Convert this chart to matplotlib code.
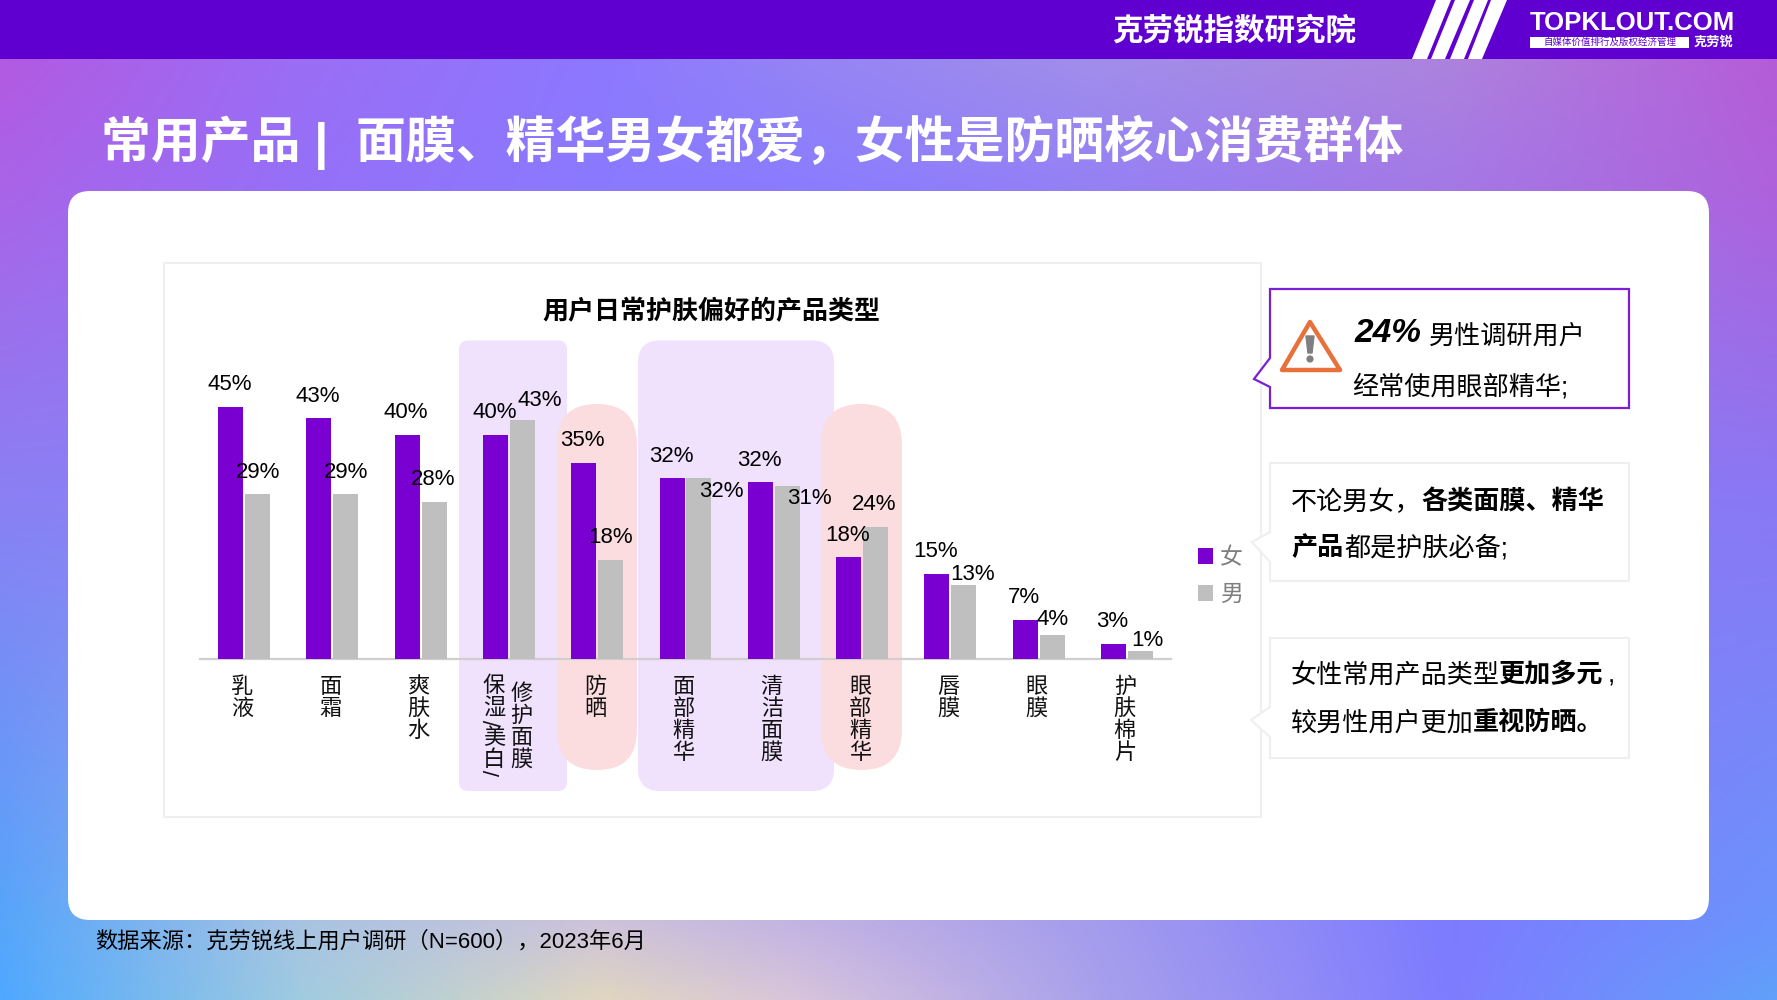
import numpy as np
import matplotlib
matplotlib.use("Agg")
import matplotlib.pyplot as plt
from matplotlib.patches import FancyBboxPatch, Polygon, Rectangle, Circle
from matplotlib.transforms import ScaledTranslation

CJK = ['Liberation Sans', 'Noto Sans CJK SC', 'DejaVu Sans']
plt.rcParams['font.family'] = CJK

# ---- data ----
categories = ['乳液', '面霜', '爽肤水', '保湿/美白/修护面膜', '防晒', '面部精华',
              '清洁面膜', '眼部精华', '唇膜', '眼膜', '护肤棉片']
female = [45, 43, 40, 40, 35, 32.3, 31.6, 18.2, 15.2, 7, 2.7]
male = [29.4, 29.4, 28, 42.7, 17.7, 32.3, 30.9, 23.6, 13.2, 4.3, 1.4]
series_names = ['女', '男']

# ---- style ----
PURPLE = '#7900D1'
GREY = '#BFBFBF'
W, H = 1777, 1000
fig = plt.figure(figsize=(W / 100, H / 100), dpi=100)
bg = fig.add_axes([0, 0, 1, 1], zorder=0)
bg.set_xlim(0, W)
bg.set_ylim(H, 0)
bg.axis('off')

# background wash
gx = np.array([0, 300, 600, 800, 1100, 1450, 1777], float)
gy = np.array([59, 190, 500, 930, 1000], float)
hexes = [
    ['#b25ae2', '#9a6ef5', '#8c78ff', '#9484f5', '#a18eea', '#ac82de', '#b55cd8'],
    ['#a964e8', '#9570f8', '#8a7aff', '#8a7cff', '#9580f5', '#a478e6', '#ae62dc'],
    ['#8a80f4', '#8a80f8', '#8a80fa', '#8a80fa', '#8a80fa', '#8a7cf8', '#8a78f4'],
    ['#55a6fb', '#a8c4e2', '#cfc4d8', '#c4b4e2', '#a49ced', '#7d7bff', '#6a94fc'],
    ['#50a8ff', '#a0cbe0', '#e0d6c0', '#d8c4dc', '#a8a0ec', '#7f7cff', '#60a0fa'],
]
rgb = np.array([[matplotlib.colors.to_rgb(c) for c in row] for row in hexes])
xx = np.linspace(0, W, 356)
yy = np.linspace(0, H, 200)
img = np.zeros((200, 356, 3))
for ch in range(3):
    rows = np.array([np.interp(xx, gx, rgb[r, :, ch]) for r in range(5)])
    img[:, :, ch] = np.array([np.interp(yy, gy, rows[:, i]) for i in range(356)]).T
bg.imshow(img, extent=(0, W, H, 0), aspect='auto', interpolation='bilinear', zorder=0)
bg.set_xlim(0, W)
bg.set_ylim(H, 0)


def rrect(x0, y0, x1, y1, r, **kw):
    p = FancyBboxPatch((x0 + r, y0 + r), x1 - x0 - 2 * r, y1 - y0 - 2 * r,
                       boxstyle=f'round,pad={r},rounding_size={r}', **kw)
    bg.add_patch(p)
    return p


# header
bg.add_patch(Rectangle((0, 0), W, 59, fc='#6000D0', ec='none', zorder=1))
stripes = [((1412, 59), (1427, 59), (1451, 0), (1436, 0)),
           ((1431, 59), (1445, 59), (1470, 0), (1455, 0)),
           ((1450, 59), (1464, 59), (1488, 0), (1474, 0)),
           ((1468, 59), (1482, 59), (1507, 0), (1491, 0))]
for s in stripes:
    bg.add_patch(Polygon(s, fc='white', ec='none', zorder=2))
bg.text(1234, 32, '克劳锐指数研究院', color='white', fontsize=22, fontweight='bold',
        ha='center', va='center', zorder=3)
bg.text(1632, 23.5, 'TOPKLOUT.COM', color='white', fontsize=18.5, fontweight='bold',
        ha='center', va='center', zorder=3)
bg.add_patch(Rectangle((1530, 37), 159, 11, fc='white', ec='none', zorder=2))
bg.text(1609.5, 42.5, '自媒体价值排行及版权经济管理', color='#6000D0', fontsize=6.8,
        ha='center', va='center', zorder=3)
bg.text(1714, 43, '克劳锐', color='white', fontsize=9.5, fontweight='bold',
        ha='center', va='center', zorder=3)

# slide title
bg.text(101, 142, '常用产品 |  面膜、精华男女都爱，女性是防晒核心消费群体', color='white',
        fontsize=35.9, fontweight='bold', ha='left', va='center', zorder=3)

# card and chart frame
rrect(68, 191, 1709, 920, 22, fc='white', ec='none', zorder=1)
bg.add_patch(Rectangle((164, 263), 1097, 554, fc='white', ec='#EFEFEF', lw=1.5, zorder=1.5))

# highlight bands
rrect(459, 340.5, 567, 791, 9, fc='#F0E1FD', ec='none', zorder=2)
rrect(638, 340.5, 834, 791, 22, fc='#F0E1FD', ec='none', zorder=2)
rrect(557, 404, 637, 770, 39.9, fc='#FBDDDF', ec='none', zorder=2.2)
rrect(821, 404, 902, 770, 40.4, fc='#FBDDDF', ec='none', zorder=2.2)

bg.text(711.5, 312, '用户日常护肤偏好的产品类型', color='black', fontsize=18.7,
        fontweight='bold', ha='center', va='center', zorder=3)

# bars
ax = fig.add_axes([200 / W, 1 - 659 / H, 971 / W, 280 / H], zorder=1)
ax.patch.set_alpha(0)
ax.set_xlim(-0.5, 10.5)
ax.set_ylim(0, 50)
x = np.arange(len(categories))
off = 13.5 / 88.3
bw = 25 / 88.3
b1 = ax.bar(x - off, female, bw, color=PURPLE, label=series_names[0], zorder=3)
b2 = ax.bar(x + off, male, bw, color=GREY, label=series_names[1], zorder=3)
for s in ['top', 'left', 'right']:
    ax.spines[s].set_visible(False)
ax.spines['bottom'].set_color('#D0CECE')
ax.spines['bottom'].set_linewidth(1.6)
ax.set_yticks([])
ax.set_xticks(x)
ticklabels = ['\n'.join(c) if '/' not in c else '' for c in categories]
ax.set_xticklabels(ticklabels, fontsize=16, color='#111111', linespacing=1.05)
ax.tick_params(axis='x', length=0, pad=13.2)
nudge = ScaledTranslation(-2 / 100, 0, fig.dpi_scale_trans)
for lab in ax.get_xticklabels():
    lab.set_transform(lab.get_transform() + nudge)

# value labels: px offsets from bar-top centre
px = 0.72
male_off = [(0, 22), (0, 22), (-1, 23), (17, 19), (0, 22), (22, -13),
            (22, -13), (-1, 22), (9, 11), (0, 15), (7, 11)]
for i, v in enumerate(female):
    ax.annotate(f'{v:.0f}%', (i - off, v), xytext=(-1 * px, 22 * px), textcoords='offset points',
                ha='center', va='center', fontsize=16, color='black', zorder=5)
for i, v in enumerate(male):
    dx, dy = male_off[i]
    ax.annotate(f'{v:.0f}%', (i + off, v), xytext=(dx * px, dy * px), textcoords='offset points',
                ha='center', va='center', fontsize=16, color='black', zorder=5)

# two-column label of the fourth category
col1 = '保湿/美白/'
col1_y = [687, 708, 723, 739, 760, 773]
for ch, yy_ in zip(col1, col1_y):
    bg.text(494, yy_, ch, fontsize=16, color='#111111', ha='center', va='center',
            rotation=90 if ch == '/' else 0, zorder=3)
for ch, yy_ in zip('修护面膜', [694, 716, 738, 760]):
    bg.text(521.7, yy_, ch, fontsize=16, color='#111111', ha='center', va='center', zorder=3)

# legend
leg = ax.legend(handles=[b1, b2], loc='center left', bbox_to_anchor=(1198, 576),
                bbox_transform=bg.transData, frameon=False, fontsize=16.5, labelcolor='#7F7F7F',
                handlelength=0.66, handleheight=0.66, handletextpad=0.3, labelspacing=0.6,
                borderpad=0, borderaxespad=0)

# callout boxes
def callout(y0, y1, n0, n1, tip, ec, lw):
    pts = [(1270, y0), (1629, y0), (1629, y1), (1270, y1), (1270, n1), tip, (1270, n0)]
    bg.add_patch(Polygon(pts, closed=True, fc='white', ec=ec, lw=lw, zorder=2, joinstyle='miter'))


callout(289, 408, 358, 387, (1254, 379), '#7A1FD6', 1.6)
callout(463, 581, 532, 562, (1252, 542), '#EFEFEF', 1.5)
callout(638, 758, 707, 737, (1251, 720), '#EFEFEF', 1.5)

# warning icon
bg.add_patch(Polygon([(1310, 322), (1340, 370), (1282, 370)], closed=True, fc='white', ec='#E8703A',
                     lw=3.2, joinstyle='round', zorder=3))
bg.add_patch(Polygon([(1306, 336), (1314, 336), (1312, 353), (1308, 353)], closed=True, fc='#7F7F7F',
                     ec='#7F7F7F', lw=1, joinstyle='round', zorder=4))
bg.add_patch(Circle((1310, 359), 3.6, fc='#7F7F7F', ec='none', zorder=4))


def t(x0, y, s, bold=False, size=18.8, **kw):
    bg.text(x0, y, s, fontsize=size, color='black', ha='left', va='center',
            fontweight='bold' if bold else 'normal', zorder=5, **kw)


bg.text(1355, 334, '24%', fontsize=24, color='black', ha='left', va='center',
        fontweight='bold', style='italic', zorder=5)
t(1429, 336, '男性调研用户')
t(1352, 387, '经常使用眼部精华;')
t(1291, 502, '不论男女，')
t(1421, 502, '各类面膜、精华', bold=True)
t(1291, 548, '产品', bold=True)
t(1344, 548, '都是护肤必备;')
t(1291, 675, '女性常用产品类型')
t(1499, 675, '更加多元', bold=True)
t(1608, 675, ',')
t(1291, 723, '较男性用户更加')
t(1473, 723, '重视防晒。', bold=True)

# source
bg.text(95, 942, '数据来源：克劳锐线上用户调研（N=600），2023年6月', fontsize=16, color='black',
        ha='left', va='center', zorder=5)

fig.savefig('out.png', dpi=100)
